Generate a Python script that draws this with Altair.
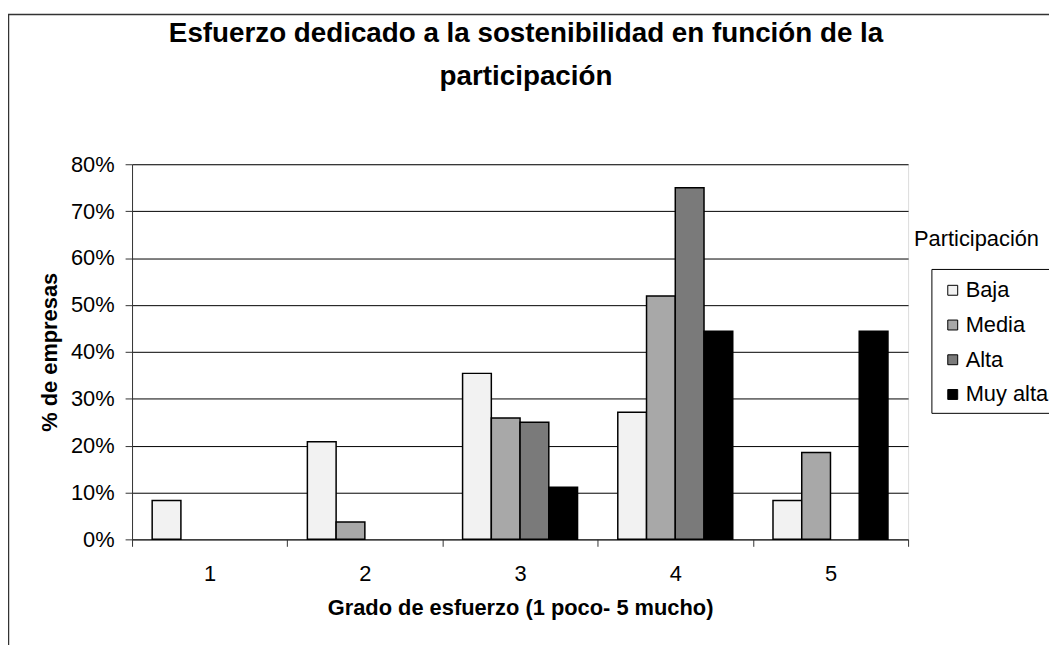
import altair as alt
import pandas as pd

grados = ["1", "2", "3", "4", "5"]
participacion = ["Baja", "Media", "Alta", "Muy alta"]
baja = [0.083, 0.208, 0.354, 0.271, 0.083]
media = [0.0, 0.037, 0.259, 0.519, 0.185]
alta = [0.0, 0.0, 0.25, 0.75, 0.0]
muy_alta = [0.0, 0.0, 0.111, 0.444, 0.444]
colores = ["#f2f2f2", "#a8a8a8", "#7a7a7a", "#000000"]

title_line1 = "Esfuerzo dedicado a la sostenibilidad en función de la"
title_line2 = "participación"
x_title = "Grado de esfuerzo (1 poco- 5 mucho)"
y_title = "% de empresas"
legend_title = "Participación"

FONT = "Liberation Sans"

rows = []
for serie, vals in zip(participacion, [baja, media, alta, muy_alta]):
    for g, v in zip(grados, vals):
        rows.append({"grado": g, "part": serie, "valor": v})
df = pd.DataFrame(rows)

W, H = 782, 378
one = pd.DataFrame({"k": [0]})

frame = alt.Chart(one).mark_rect(
    filled=False, stroke="#333333", strokeWidth=1.5
).encode(
    x=alt.value(-124.5), x2=alt.value(1000), y=alt.value(-151), y2=alt.value(700)
)

legend_box = alt.Chart(one).mark_rect(
    filled=False, stroke="black", strokeWidth=1
).encode(
    x=alt.value(806), x2=alt.value(1000), y=alt.value(106), y2=alt.value(251)
)

bars = alt.Chart(df).transform_filter("datum.valor > 0").mark_bar(
    stroke="black", strokeWidth=1.5
).encode(
    x=alt.X(
        "grado:N",
        sort=grados,
        scale=alt.Scale(paddingInner=0, paddingOuter=0),
        axis=alt.Axis(
            title=x_title, labelAngle=0, tickBand="extent", tickSize=7,
            labelFontSize=22, labelFont=FONT, labelColor="black", labelPadding=17,
            titleFontSize=22, titleFont=FONT, titleFontWeight="bold", titleColor="black",
            titlePadding=14, domainColor="#333333", tickColor="#333333", grid=False,
        ),
    ),
    xOffset=alt.XOffset(
        "part:N", sort=participacion,
        scale=alt.Scale(paddingInner=0, paddingOuter=0.7),
    ),
    y=alt.Y(
        "valor:Q",
        scale=alt.Scale(domain=[0, 0.8]),
        axis=alt.Axis(
            title=y_title, values=[0, 0.1, 0.2, 0.3, 0.4, 0.5, 0.6, 0.7, 0.8], format=".0%",
            tickSize=7, labelFontSize=22, labelFont=FONT, labelColor="black", labelPadding=11,
            titleFontSize=22, titleFont=FONT, titleFontWeight="bold", titleColor="black",
            titlePadding=9, domainColor="#333333", tickColor="#333333",
            grid=True, gridColor="black", gridWidth=1,
        ),
    ),
    color=alt.Color(
        "part:N",
        sort=participacion,
        scale=alt.Scale(domain=participacion, range=colores),
        legend=alt.Legend(
            title=None, orient="none", legendX=806, legendY=106,
            padding=10, symbolType="square", symbolSize=100,
            symbolStrokeColor="black", symbolStrokeWidth=1, labelFontSize=22,
            labelFont=FONT, labelColor="black", rowPadding=13, labelOffset=2,
        ),
    ),
)

leg_title = alt.Chart(pd.DataFrame({"t": [legend_title]})).mark_text(
    align="left", baseline="middle", fontSize=22, font=FONT, color="black"
).encode(text="t:N", x=alt.value(788), y=alt.value(75))

title1 = alt.Chart(pd.DataFrame({"t": [title_line1]})).mark_text(
    align="center", baseline="middle", fontSize=28, font=FONT, fontWeight="bold", color="black"
).encode(text="t:N", x=alt.value(397), y=alt.value(-131))

title2 = alt.Chart(pd.DataFrame({"t": [title_line2]})).mark_text(
    align="center", baseline="middle", fontSize=28, font=FONT, fontWeight="bold", color="black"
).encode(text="t:N", x=alt.value(397), y=alt.value(-88))

chart = alt.layer(frame, legend_box, bars, leg_title, title1, title2).properties(
    width=W, height=H,
    autosize=alt.AutoSizeParams(type="none"),
    padding={"left": 125, "top": 155, "right": 142, "bottom": 104},
).configure_view(stroke="#808080", strokeWidth=1).configure(background="white")

chart.save("out.html", embed_options={"renderer": "svg", "actions": False})
